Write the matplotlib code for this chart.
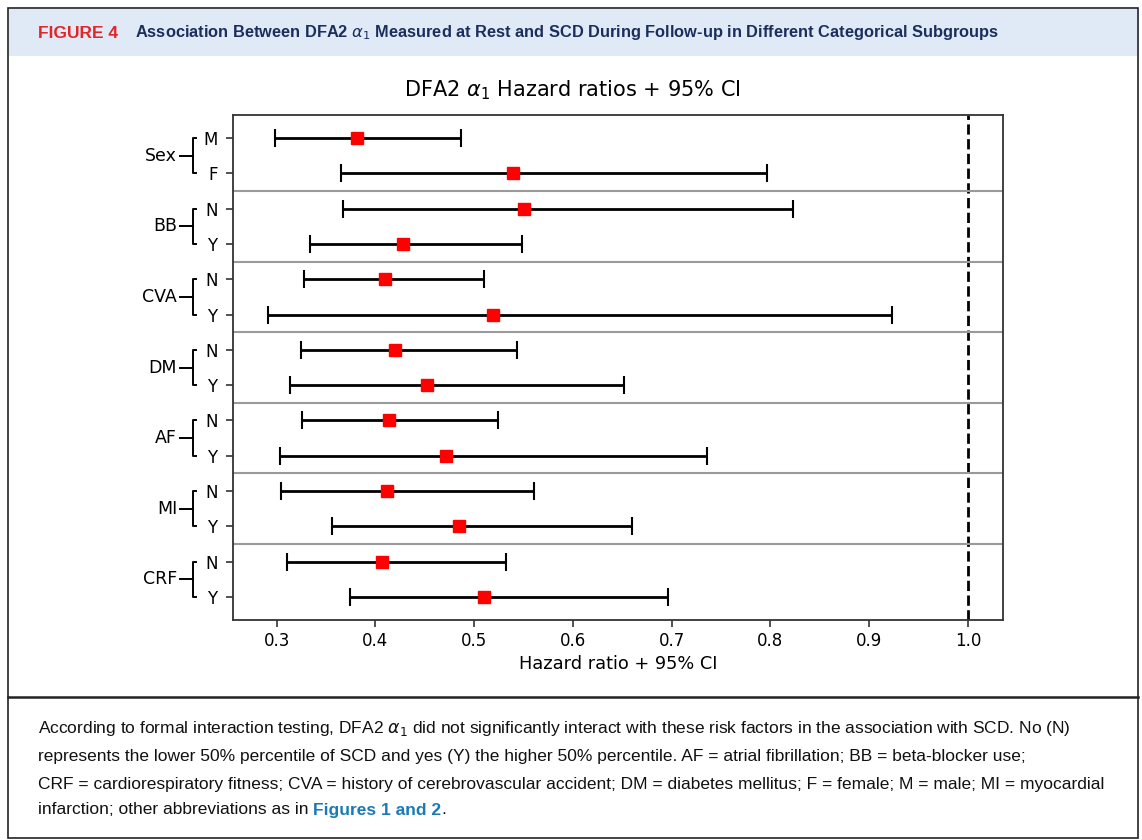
import numpy as np
import matplotlib.pyplot as plt
from matplotlib.patches import Rectangle
from matplotlib.lines import Line2D

# ----------------------------------- DATA -----------------------------------
groups = ['Sex', 'BB', 'CVA', 'DM', 'AF', 'MI', 'CRF']
levels = ['M', 'F', 'N', 'Y', 'N', 'Y', 'N', 'Y', 'N', 'Y', 'N', 'Y', 'N', 'Y']
hr = np.array([0.381, 0.539, 0.550, 0.428, 0.410, 0.519, 0.420,
               0.452, 0.414, 0.472, 0.412, 0.485, 0.407, 0.510])
lo = np.array([0.298, 0.365, 0.367, 0.334, 0.328, 0.291, 0.325,
               0.314, 0.326, 0.303, 0.304, 0.356, 0.311, 0.374])
hi = np.array([0.487, 0.797, 0.823, 0.548, 0.510, 0.923, 0.543,
               0.652, 0.524, 0.736, 0.561, 0.660, 0.532, 0.696])
ref_line = 1.0

header_label = 'FIGURE 4'
header_title = ('Association Between DFA2 $\\alpha_1$ Measured at Rest and SCD '
                'During Follow-up in Different Categorical Subgroups')
caption = [
    'According to formal interaction testing, DFA2 $\\alpha_1$ did not significantly interact '
    'with these risk factors in the association with SCD. No (N)',
    'represents the lower 50% percentile of SCD and yes (Y) the higher 50% percentile. '
    'AF = atrial fibrillation; BB = beta-blocker use;',
    'CRF = cardiorespiratory fitness; CVA = history of cerebrovascular accident; '
    'DM = diabetes mellitus; F = female; M = male; MI = myocardial',
    'infarction; other abbreviations as in ',
]
caption_link = 'Figures 1 and 2'

W, H = 1142, 840


def fx(px):
    return px / W


def fy(py):
    return 1 - py / H


# ----------------------------------- FIGURE ---------------------------------
fig = plt.figure(figsize=(W / 100, H / 100), dpi=100)
sans = ['Liberation Sans', 'DejaVu Sans']

# frame, header band, divider
fig.add_artist(Rectangle((fx(9), fy(56)), fx(1128), 47 / H, transform=fig.transFigure,
                         facecolor='#dfeaf6', edgecolor='none', zorder=0))
fig.add_artist(Rectangle((fx(8), fy(838)), fx(1130), 830 / H, transform=fig.transFigure,
                         facecolor='none', edgecolor='#222222', lw=1.2, zorder=1))
fig.add_artist(Line2D([fx(8), fx(1138)], [fy(697), fy(697)], transform=fig.transFigure,
                      color='#222222', lw=1.8))

fig.text(fx(38), fy(33), header_label, color='#e2252b', fontsize=12.5, fontweight='bold',
         family=sans, va='center')
fig.text(fx(135), fy(33), header_title, color='#1c2f5c', fontsize=11.8, fontweight='bold',
         family=sans, va='center')

# caption
cap_y = [729, 757, 784, 810]
for line, py in zip(caption, cap_y):
    t = fig.text(fx(38), fy(py), line, color='#111111', fontsize=12.5, family=sans,
                 va='center')
renderer = fig.canvas.get_renderer()
bb = t.get_window_extent(renderer=renderer)
link = fig.text(bb.x1 / W, fy(cap_y[-1]), caption_link, color='#1a7ab8', fontsize=12.5,
                fontweight='bold', family=sans, va='center')
bb2 = link.get_window_extent(renderer=renderer)
fig.text(bb2.x1 / W, fy(cap_y[-1]), '.', color='#111111', fontsize=12.5,
         family=sans, va='center')

# ----------------------------------- CHART ----------------------------------
ax = fig.add_axes([fx(232.7), fy(620), (1003 - 232.7) / W, 505 / H])
ypos = np.arange(len(levels))

ax.errorbar(hr, ypos, xerr=[hr - lo, hi - hr], fmt='none', ecolor='black',
            elinewidth=2, capsize=6.5, capthick=1.5, zorder=2)
ax.plot(hr, ypos, 's', color='red', markersize=9, zorder=3)
ax.axvline(ref_line, color='black', ls='--', lw=2, zorder=1)
for g in range(1, len(groups)):
    ax.axhline(2 * g - 0.5, color='#9a9a9a', lw=1.5, zorder=1)

ax.set_xticks(np.arange(0.3, 1.01, 0.1))
ax.set_yticks(ypos)
ax.set_yticklabels(levels)
ax.invert_yaxis()
ax.tick_params(labelsize=12, width=1.2, length=5, color='#333333')
ax.tick_params(axis='y', pad=6)
for s in ax.spines.values():
    s.set_color('#333333')
    s.set_linewidth(1.3)
ax.set_xlabel('Hazard ratio + 95% CI', fontsize=12.8)

# group brackets on the left
tr = ax.get_yaxis_transform()
xb, xs, xd, xt = -0.0519, -0.0473, -0.0683, -0.0722
for g, name in enumerate(groups):
    y0, y1 = 2 * g, 2 * g + 1
    ym = (y0 + y1) / 2
    ax.plot([xs, xb, xb, xs], [y0, y0, y1, y1], color='black', lw=1.4,
            transform=tr, clip_on=False)
    ax.plot([xd, xb], [ym, ym], color='black', lw=1.4, transform=tr, clip_on=False)
    ax.text(xt, ym, name, transform=tr, ha='right', va='center', fontsize=12.5)

fig.text(0.501, fy(90), 'DFA2 $\\alpha_1$ Hazard ratios + 95% CI', ha='center',
         va='center', fontsize=15)

plt.savefig('out.png', dpi=100)
